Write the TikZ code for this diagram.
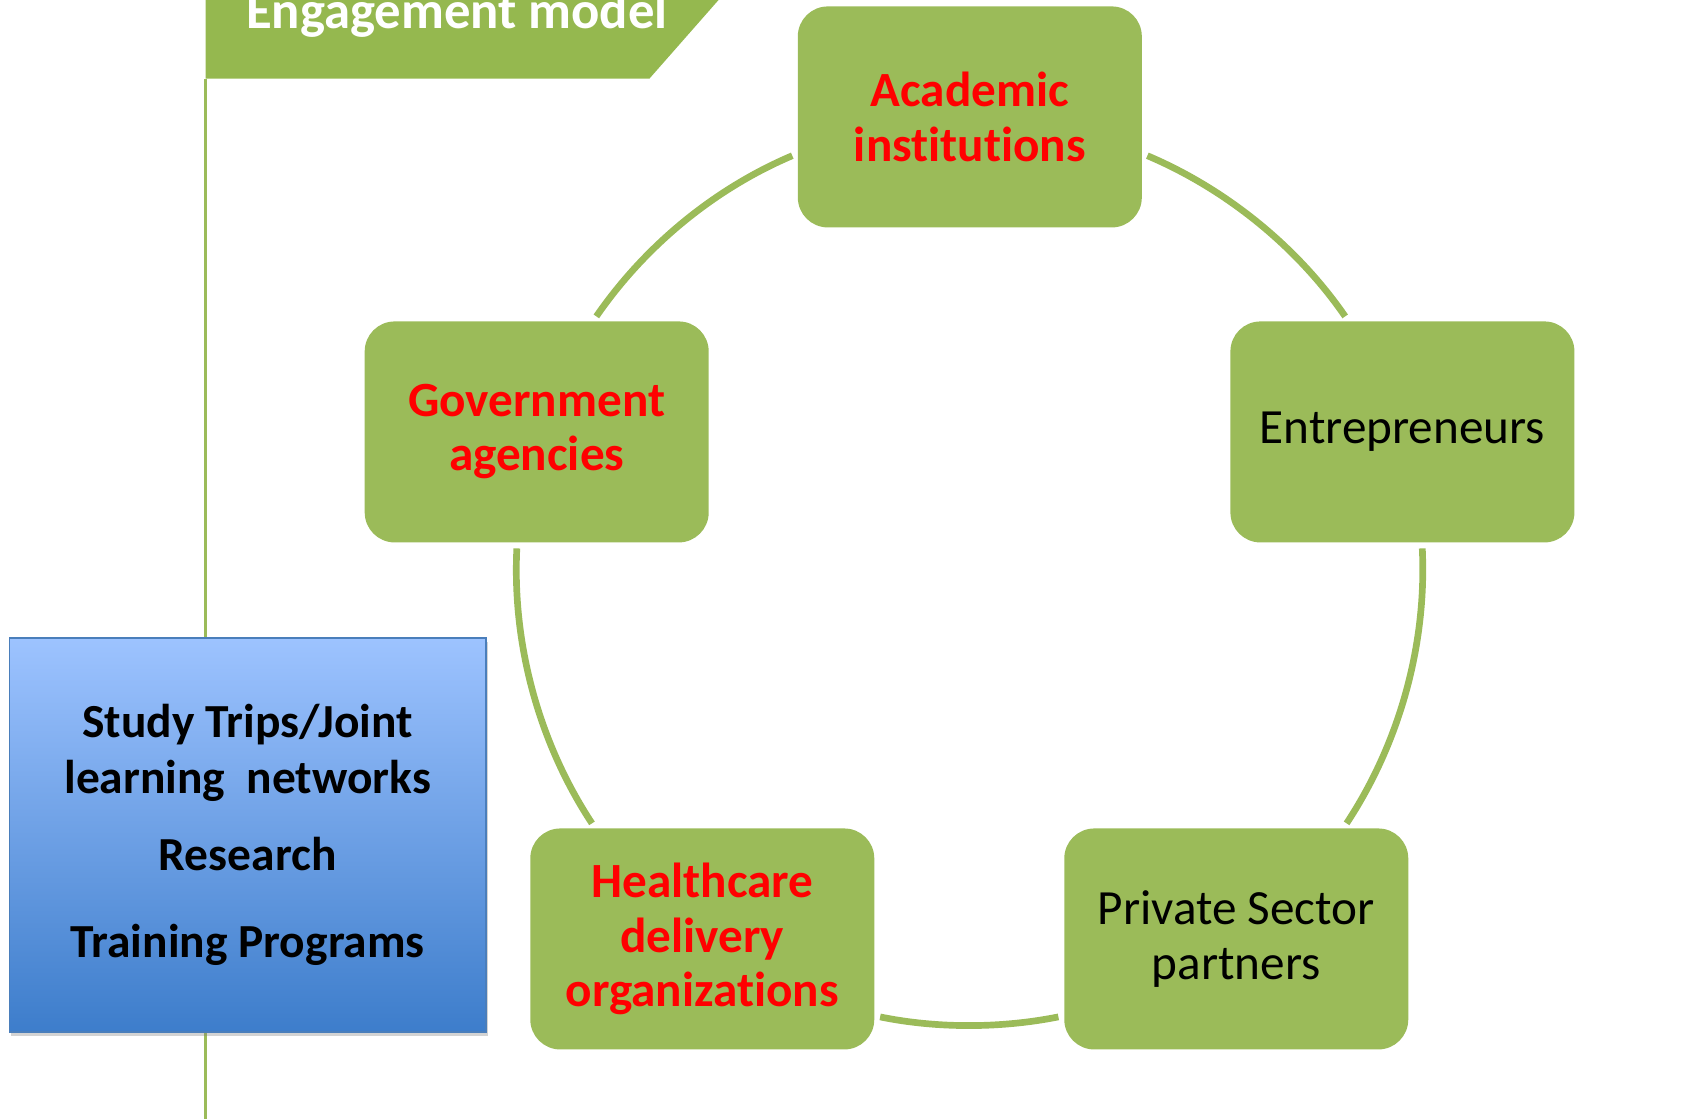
\documentclass[tikz,border=0pt]{standalone}
\usepackage{fontspec}
\setmainfont{Carlito}[RawFeature={-liga;-clig;-dlig;-calt}]
\usetikzlibrary{shadows}
\definecolor{boxgreen}{HTML}{9BBB59}
\definecolor{flaggreen}{HTML}{95B84F}
\definecolor{acttop}{HTML}{9DC3FF}
\definecolor{actbottom}{HTML}{3D7DCB}
\definecolor{actborder}{HTML}{4A7EBB}
\begin{document}
\begin{tikzpicture}[
    x=0.010788cm, y=0.010788cm,
    group/.style={rectangle, rounded corners=0.3cm, fill=boxgreen, minimum width=3.44cm, minimum height=2.21cm, align=center, font=\fontsize{14}{15.8}\selectfont},
    key/.style={text=red, font=\fontsize{14}{15.4}\selectfont\bfseries},
    link/.style={draw=boxgreen, line width=1.9pt, shorten <=1.5pt, shorten >=1.5pt},
    activity/.style={rectangle, draw=actborder, line width=0.5pt, top color=acttop, bottom color=actbottom, minimum width=4.766cm, minimum height=3.943cm, align=center, font=\fontsize{13.5}{15.9}\selectfont\bfseries, drop shadow={opacity=0.35, shadow xshift=0.6pt, shadow yshift=-1.2pt}}
]
    \useasboundingbox (0,0) rectangle (1560.1,1036.4);

    % banner and the rule under it
    \fill[flaggreen] (190.7,1042) -- (671,1042) -- (602,963.5) -- (190.7,963.5) -- cycle;
    \node[text=white, font=\fontsize{15}{18}\selectfont\bfseries, anchor=base] (title) at (423.5,1010) {Engagement model};
    \coordinate (flag) at (190.7,963.5);
    \coordinate (floor) at (190.7,-2);
    \draw[boxgreen, line width=0.7pt] (flag) -- (floor);

    % stakeholders
    \node[group, key] (academic) at (899,928) {Academic\\institutions};
    \node[group, key] (government) at (497.5,636) {Government\\agencies};
    \node[group] (entrepreneurs) at (1300,636) {Entrepreneurs};
    \node[group, key] (healthcare) at (651,166) {Healthcare\\delivery\\organizations};
    \node[group] (private) at (1146,166) {Private Sector\\partners};

    \draw[link] (academic.-12) to[out=-23, in=124.6, distance=0.905cm] (entrepreneurs.116);
    \draw[link] (government.63) to[out=55.4, in=203, distance=0.905cm] (academic.192);
    \draw[link] (government.-100) to[out=267.2, in=123.4, distance=1.014cm] (healthcare.134);
    \draw[link] (entrepreneurs.-80) to[out=-87.2, in=56.6, distance=1.014cm] (private.46);
    \draw[link] (healthcare.-24) to[out=-11.5, in=191.3, distance=0.639cm] (private.204);

    % activities
    \node[activity] (activities) at (229.6,262.5) {Study Trips/Joint\\learning\ \ networks\\[6.1pt]Research\\[8.9pt]Training Programs};
\end{tikzpicture}
\end{document}
